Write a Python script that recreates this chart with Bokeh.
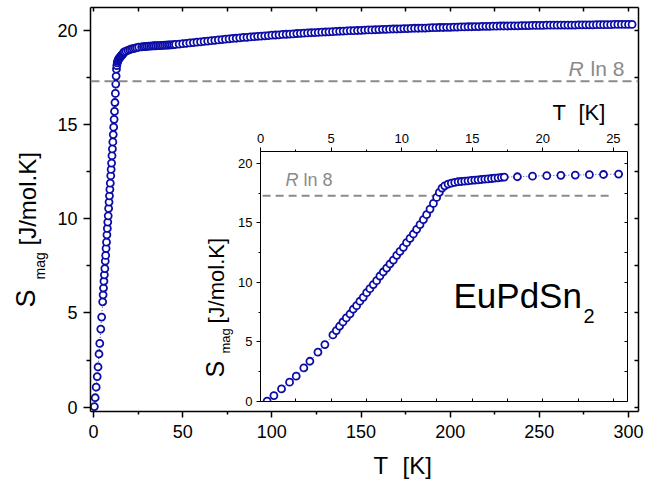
from bokeh.plotting import figure
from bokeh.models import Range1d, LinearAxis, Label, FixedTicker, Span
from bokeh.embed import file_html
from bokeh.resources import INLINE

BLUE = "#0c0ca6"
GREY = "#8a8a8a"
FONT = "Liberation Sans"

# ---------------- data ----------------
# low-temperature data (shown in inset and main plot)
t_low = [0.47, 0.95, 1.49, 2.06, 2.53, 3.07, 3.50, 4.07, 4.56, 5.13,
         5.37, 5.60, 5.84, 6.08, 6.34, 6.57, 6.81, 7.04, 7.28, 7.52,
         7.75, 7.99, 8.23, 8.46, 8.70, 8.94, 9.17, 9.41, 9.65, 9.88,
         10.12, 10.35, 10.59, 10.83, 11.06, 11.30, 11.54, 11.77, 12.01, 12.25,
         12.48, 12.67, 12.86, 13.05, 13.29, 13.52, 13.76, 14.00, 14.23, 14.47,
         14.70, 14.94, 15.18, 15.41, 15.65, 15.89, 16.12, 16.36, 16.59, 16.83,
         17.07, 17.27, 18.20, 19.27, 20.28, 21.28, 22.30, 23.30, 24.30, 25.37]
s_low = [0.03, 0.50, 1.06, 1.62, 2.13, 2.82, 3.38, 4.14, 4.78, 5.59,
         5.96, 6.32, 6.68, 7.02, 7.35, 7.75, 8.05, 8.42, 8.75, 9.14,
         9.48, 9.82, 10.15, 10.54, 10.88, 11.21, 11.55, 11.88, 12.28, 12.61,
         12.95, 13.34, 13.70, 14.07, 14.46, 14.85, 15.27, 15.69, 16.16, 16.64,
         17.14, 17.56, 17.93, 18.12, 18.26, 18.34, 18.40, 18.46, 18.48, 18.51,
         18.54, 18.57, 18.60, 18.62, 18.65, 18.68, 18.70, 18.73, 18.76, 18.79,
         18.82, 18.85, 18.88, 18.93, 18.97, 19.00, 19.02, 19.05, 19.07, 19.10]

# high-temperature data (main plot only)
t_high = [27, 28, 29, 30, 31, 32, 33, 34, 35, 36,
          37, 38, 39, 40, 41, 42, 43, 44, 45, 46,
          48, 50, 52, 54, 56, 58, 60, 62, 64, 66,
          68, 70, 72, 74, 76, 78, 80, 82, 84, 86,
          88, 90, 92, 94, 96, 98, 100, 102, 104, 106,
          108, 110, 112, 114, 116, 118, 120, 122, 124, 126,
          128, 130, 132, 134, 136, 138, 140, 142, 144, 146,
          148, 150, 152, 154, 156, 158, 160, 162, 164, 166,
          168, 170, 172, 174, 176, 178, 180, 182, 184, 186,
          188, 190, 192, 194, 196, 198, 200, 202, 204, 206,
          208, 210, 212, 214, 216, 218, 220, 222, 224, 226,
          228, 230, 232, 234, 236, 238, 240, 242, 244, 246,
          248, 250, 252, 254, 256, 258, 260, 262, 264, 266,
          268, 270, 272, 274, 276, 278, 280, 282, 284, 286,
          288, 290, 292, 294, 296, 298, 300, 302]
s_high = [19.11, 19.12, 19.13, 19.14, 19.15, 19.15, 19.16, 19.17, 19.17, 19.18,
          19.18, 19.19, 19.19, 19.20, 19.20, 19.21, 19.22, 19.22, 19.23, 19.24,
          19.26, 19.28, 19.30, 19.32, 19.34, 19.36, 19.38, 19.40, 19.42, 19.44,
          19.46, 19.48, 19.50, 19.52, 19.54, 19.56, 19.57, 19.59, 19.61, 19.62,
          19.64, 19.65, 19.67, 19.68, 19.70, 19.71, 19.73, 19.74, 19.75, 19.77,
          19.78, 19.79, 19.80, 19.82, 19.83, 19.84, 19.85, 19.86, 19.87, 19.88,
          19.89, 19.90, 19.91, 19.92, 19.93, 19.94, 19.95, 19.96, 19.97, 19.97,
          19.98, 19.99, 20.00, 20.01, 20.01, 20.02, 20.03, 20.04, 20.04, 20.05,
          20.06, 20.06, 20.07, 20.08, 20.08, 20.09, 20.10, 20.10, 20.11, 20.11,
          20.12, 20.13, 20.13, 20.14, 20.14, 20.15, 20.15, 20.16, 20.16, 20.17,
          20.17, 20.18, 20.18, 20.19, 20.19, 20.20, 20.20, 20.20, 20.21, 20.21,
          20.22, 20.22, 20.22, 20.23, 20.23, 20.23, 20.24, 20.24, 20.24, 20.25,
          20.25, 20.25, 20.25, 20.26, 20.26, 20.26, 20.26, 20.27, 20.27, 20.27,
          20.27, 20.27, 20.28, 20.28, 20.28, 20.28, 20.28, 20.29, 20.29, 20.29,
          20.29, 20.29, 20.30, 20.30, 20.30, 20.30, 20.30, 20.30]

R_LN8 = 17.29
rln8_inset_T = [0.15, 25.0]

main_x_ticks = [0, 50, 100, 150, 200, 250, 300]
main_x_minor = [25, 75, 125, 175, 225, 275]
main_y_ticks = [0, 5, 10, 15, 20]
main_y_minor = [2.5, 7.5, 12.5, 17.5]
inset_x_ticks = [0, 5, 10, 15, 20, 25]
inset_x_minor = [2.5, 7.5, 12.5, 17.5, 22.5]
inset_y_ticks = [0, 5, 10, 15, 20]
inset_y_minor = [2.5, 7.5, 12.5, 17.5]

t_main = t_low + t_high
s_main = s_low + s_high

# ---------------- geometry ----------------
W, H = 660, 481
MX = (-1.7, 305.6)
MY = (-0.23, 21.2)
ML, MT, MFW, MFH = 90, 7, 548, 404          # main frame (page px)
IX = (0, 26)
IY = (0, 21)
IPL, IPT = 195, 90                          # inset canvas position on page
IL, IT, IFW, IFH = 260, 151, 367, 250       # inset frame (page px)
MID = 0.3465                                # baseline -> middle, in em


def style_axis(ax, major, minor, t_out, t_in, m_out, m_in, fsize, standoff, lw):
    ax.ticker = FixedTicker(ticks=major, minor_ticks=minor)
    ax.major_tick_out = t_out
    ax.major_tick_in = t_in
    ax.minor_tick_out = m_out
    ax.minor_tick_in = m_in
    ax.major_label_text_font = FONT
    ax.major_label_text_font_size = fsize
    ax.major_label_text_color = "black"
    ax.major_label_standoff = standoff
    ax.axis_line_width = lw
    ax.major_tick_line_width = lw
    ax.minor_tick_line_width = lw
    ax.axis_line_color = "black"
    ax.major_tick_line_color = "black"
    ax.minor_tick_line_color = "black"
    ax.axis_label = None


def mirror_axis(major, minor, t_in, lw):
    ax = LinearAxis()
    ax.ticker = FixedTicker(ticks=[], minor_ticks=sorted(major + minor))
    ax.major_tick_out = 0
    ax.major_tick_in = 0
    ax.minor_tick_out = 0
    ax.minor_tick_in = t_in
    ax.major_label_standoff = 0
    ax.axis_line_width = lw
    ax.minor_tick_line_width = lw
    ax.axis_line_color = "black"
    ax.minor_tick_line_color = "black"
    ax.axis_label = None
    return ax


# ---------------- main figure ----------------
p = figure(frame_width=MFW, frame_height=MFH,
           min_border_left=ML, min_border_top=MT,
           min_border_right=W - ML - MFW, min_border_bottom=H - MT - MFH,
           x_range=Range1d(*MX), y_range=Range1d(*MY),
           output_backend="svg", toolbar_location=None)
p.grid.visible = False
p.outline_line_color = None
p.background_fill_color = "white"
p.border_fill_color = "white"
p.styles = {"position": "absolute", "left": "0px", "top": "0px"}

style_axis(p.xaxis[0], main_x_ticks, main_x_minor, 6, 0, 3, 0, "18px", 7, 1.5)
style_axis(p.yaxis[0], main_y_ticks, main_y_minor, 7, 0, 4, 0, "18px", 6, 1.5)
p.add_layout(mirror_axis(main_x_ticks, main_x_minor, 4, 1.5), "above")
p.add_layout(mirror_axis(main_y_ticks, main_y_minor, 4, 1.5), "right")

p.add_layout(Span(location=R_LN8, dimension="width", line_color=GREY,
                  line_width=2, line_dash="9 5"))
p.line(t_main, s_main, line_color=BLUE, line_width=0.8, line_dash="1 2")
p.scatter(t_main, s_main, marker="circle", size=7, line_color=BLUE,
          line_width=1.8, fill_color="white")

# ---------------- inset figure ----------------
q = figure(frame_width=IFW, frame_height=IFH,
           min_border_left=IL - IPL, min_border_top=IT - IPT,
           min_border_right=5, min_border_bottom=12,
           x_range=Range1d(*IX), y_range=Range1d(*IY),
           x_axis_location="above",
           output_backend="svg", toolbar_location=None)
q.grid.visible = False
q.outline_line_color = None
q.background_fill_color = "white"
q.border_fill_color = None
q.styles = {"position": "absolute", "left": f"{IPL}px", "top": f"{IPT}px"}

style_axis(q.xaxis[0], inset_x_ticks, inset_x_minor, 4, 0, 2, 0, "13px", 5, 1)
style_axis(q.yaxis[0], inset_y_ticks, inset_y_minor, 4, 0, 2, 0, "13px", 4, 1)
q.add_layout(mirror_axis(inset_x_ticks, inset_x_minor, 3, 1), "below")
q.add_layout(mirror_axis(inset_y_ticks, inset_y_minor, 3, 1), "right")

q.line(rln8_inset_T, [R_LN8, R_LN8], line_color=GREY, line_width=2,
       line_dash="8 5")
q.line(t_low, s_low, line_color=BLUE, line_width=0.8, line_dash="1 2")
q.scatter(t_low, s_low, marker="circle", size=7, line_color=BLUE,
          line_width=1.8, fill_color="white")

# ---------------- text overlay (page pixel coordinates) ----------------
r = figure(width=W, height=H, x_range=Range1d(0, W), y_range=Range1d(H, 0),
           min_border=0, x_axis_type=None, y_axis_type=None,
           output_backend="svg", toolbar_location=None)
r.grid.visible = False
r.outline_line_color = None
r.background_fill_color = None
r.border_fill_color = None
r.styles = {"position": "absolute", "left": "0px", "top": "0px"}


def add_text(px, baseline, text, size, color="black", rotated=False,
             style="normal"):
    if rotated:
        x, y, ang = baseline - MID * size, px, 1.5708
    else:
        x, y, ang = px, baseline - MID * size, 0.0
    r.add_layout(Label(x=x, y=y, text=text, angle=ang,
                       text_font=FONT, text_font_size=f"{size}px",
                       text_color=color, text_font_style=style,
                       text_align="left", text_baseline="middle"))


# main plot titles
add_text(373, 473, "T", 24)
add_text(402, 473, "[K]", 24)
add_text(307, 35, "S", 27, rotated=True)
add_text(279, 44, "mag", 14, rotated=True)
add_text(245, 35, "[J/mol.K]", 24, rotated=True)
add_text(568, 75, "R", 21, color=GREY, style="italic")
add_text(590, 75, "ln 8", 21, color=GREY)
# inset titles
add_text(552, 120, "T", 22)
add_text(578, 120, "[K]", 22)
add_text(377, 223, "S", 25, rotated=True)
add_text(353, 230, "mag", 13, rotated=True)
add_text(323, 224, "[J/mol.K]", 22, rotated=True)
add_text(285, 186, "R", 18, color=GREY, style="italic")
add_text(303, 186, "ln 8", 18, color=GREY)
add_text(453, 307, "EuPdSn", 35)
add_text(583, 322, "2", 20)

open("out.html", "w").write(file_html([p, q, r], INLINE))
